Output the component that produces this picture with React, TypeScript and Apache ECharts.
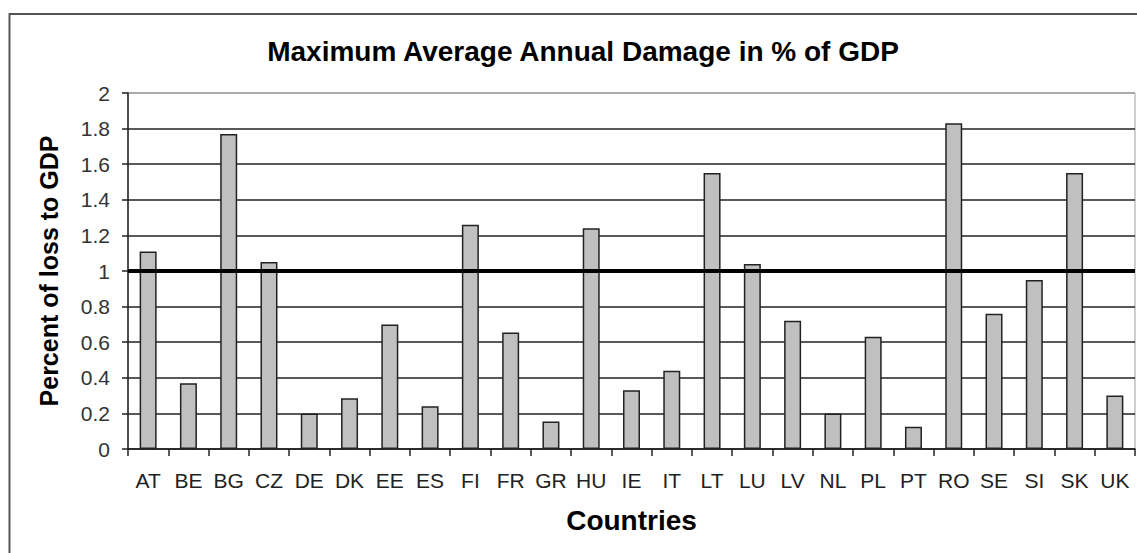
import React, { useEffect, useRef } from "react";
import * as echarts from "echarts";

const countries = ["AT", "BE", "BG", "CZ", "DE", "DK", "EE", "ES", "FI", "FR", "GR", "HU", "IE", "IT", "LT", "LU", "LV", "NL", "PL", "PT", "RO", "SE", "SI", "SK", "UK"];
const damageValues = [1.11, 0.37, 1.77, 1.05, 0.2, 0.285, 0.7, 0.24, 1.26, 0.655, 0.155, 1.24, 0.33, 0.44, 1.55, 1.04, 0.72, 0.2, 0.63, 0.125, 1.83, 0.76, 0.95, 1.55, 0.3];
const thresholdValue = 1;
const yMin = 0;
const yMax = 2;
const yStep = 0.2;

const FONT = "'Liberation Sans', Arial, sans-serif";

export default function App() {
  const ref = useRef<HTMLDivElement>(null);
  useEffect(() => {
    if (!ref.current) return;
    const chart = echarts.init(ref.current, null, { renderer: "svg" });
    const splitColors = Array.from({ length: 11 }, (_, i) => (i === 10 ? "#a0a0a0" : "#222"));
    chart.setOption({
      animation: false,
      backgroundColor: "#fff",
      title: {
        text: "Maximum Average Annual Damage in % of GDP",
        left: 578,
        top: 32,
        textAlign: "center",
        textStyle: { fontFamily: FONT, fontSize: 28, fontWeight: "bold", color: "#000" },
      },
      grid: {
        left: 128,
        right: 2,
        top: 93,
        bottom: 104,
        show: true,
        borderColor: "#a0a0a0",
        borderWidth: 1,
      },
      graphic: [
        {
          type: "rect",
          shape: { x: 9.5, y: 14, width: 1140, height: 560 },
          style: { fill: "none", stroke: "#555", lineWidth: 2 },
          silent: true,
          z: 10,
        },
      ],
      xAxis: {
        type: "category",
        data: countries,
        name: "Countries",
        nameLocation: "middle",
        nameGap: 57,
        nameTextStyle: { fontFamily: FONT, fontSize: 28, fontWeight: "bold", color: "#000" },
        axisLine: { lineStyle: { color: "#222", width: 1.5 } },
        axisTick: { show: true, length: 7, lineStyle: { color: "#222", width: 1.5 } },
        axisLabel: { fontFamily: FONT, fontSize: 21, color: "#222", margin: 21, interval: 0 },
        splitLine: { show: false },
      },
      yAxis: {
        type: "value",
        min: yMin,
        max: yMax,
        interval: yStep,
        name: "Percent of loss to GDP",
        nameLocation: "middle",
        nameGap: 67,
        nameTextStyle: { fontFamily: FONT, fontSize: 25, fontWeight: "bold", color: "#000" },
        axisLine: { show: true, lineStyle: { color: "#222", width: 1.5 } },
        axisTick: { show: true, length: 6, lineStyle: { color: "#222", width: 1.5 } },
        axisLabel: {
          fontFamily: FONT,
          fontSize: 21,
          color: "#333",
          margin: 18,
          formatter: (v: number) => String(Math.round(v * 10) / 10),
        },
        splitLine: { show: true, lineStyle: { color: splitColors, width: 1.5 } },
      },
      series: [
        {
          type: "bar",
          data: damageValues,
          barWidth: 17,
          itemStyle: { color: "#c0c0c0", borderColor: "#222", borderWidth: 1.5 },
          markLine: {
            silent: true,
            symbol: ["none", "none"],
            label: { show: false },
            lineStyle: { color: "#000", width: 4, type: "solid" },
            data: [{ yAxis: thresholdValue }],
            z: 5,
          },
        },
      ],
    });
    return () => chart.dispose();
  }, []);
  return (
    <div
      ref={ref}
      style={{ position: "fixed", left: 0, top: 0, width: 1137, height: 553 }}
    />
  );
}
